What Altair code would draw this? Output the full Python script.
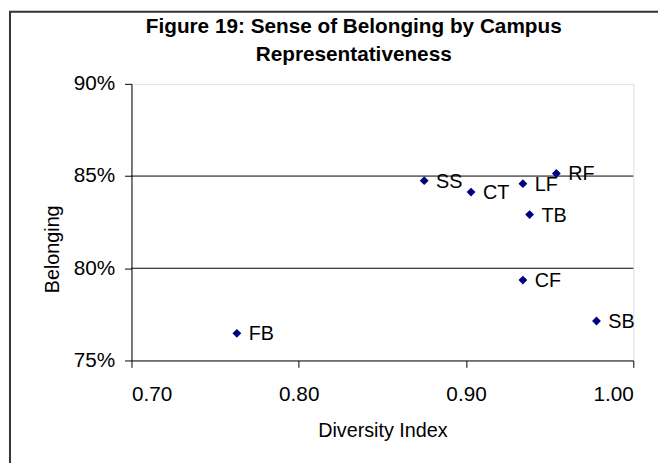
import altair as alt
import pandas as pd

# Data
campus = ["SS", "CT", "LF", "RF", "TB", "CF", "SB", "FB"]
diversity = [0.875, 0.903, 0.934, 0.954, 0.938, 0.934, 0.978, 0.763]
belonging = [0.8475, 0.8413, 0.8459, 0.8514, 0.8291, 0.7936, 0.7714, 0.7647]

x_ticks = [0.70, 0.80, 0.90, 1.00]
y_ticks = [0.75, 0.80, 0.85, 0.90]
grid_vals = [0.80, 0.85]

FONT = "Liberation Sans"

df = pd.DataFrame({"campus": campus, "diversity": diversity, "belonging": belonging})
grid_df = pd.DataFrame({"belonging": grid_vals})

xscale = alt.Scale(domain=[0.70, 1.00], nice=False, zero=False)
yscale = alt.Scale(domain=[0.75, 0.90], nice=False, zero=False)

x_axis = alt.Axis(
    title="Diversity Index", values=x_ticks, format=".2f", grid=False,
    domainColor="black", tickColor="black", tickSize=7, labelPadding=17,
    labelFont=FONT, labelFontSize=21, labelColor="black",
    titleFont=FONT, titleFontSize=20, titleFontWeight="normal", titleColor="black",
    titlePadding=16,
)
y_axis = alt.Axis(
    title="Belonging", values=y_ticks, format=".0%", grid=False,
    domainColor="black", tickColor="black", tickSize=7, labelPadding=10,
    labelFont=FONT, labelFontSize=21, labelColor="black",
    titleFont=FONT, titleFontSize=20, titleFontWeight="normal", titleColor="black",
    titleX=-70, titleY=167,
)

frame = alt.Chart(pd.DataFrame({"f": [0]})).mark_rect(
    fill=None, stroke="#333333", strokeWidth=2
).encode(
    x=alt.value(-123), x2=alt.value(600), y=alt.value(-73), y2=alt.value(500)
)

grid = alt.Chart(grid_df).mark_rule(color="black", strokeWidth=1).encode(
    y=alt.Y("belonging:Q", scale=yscale, axis=y_axis)
)

points = alt.Chart(df).mark_point(
    shape="diamond", filled=True, color="#000080", size=80, opacity=1
).encode(
    x=alt.X("diversity:Q", scale=xscale, axis=x_axis),
    y=alt.Y("belonging:Q", scale=yscale, axis=y_axis),
)

labels = alt.Chart(df).mark_text(
    align="left", baseline="middle", dx=12, dy=1, font=FONT, fontSize=20, color="black"
).encode(
    x=alt.X("diversity:Q", scale=xscale, axis=x_axis),
    y=alt.Y("belonging:Q", scale=yscale, axis=y_axis),
    text="campus:N",
)

chart = alt.layer(frame, grid, points, labels).properties(
    width=508,
    height=280,
    autosize=alt.AutoSizeParams(type="none"),
    padding={"left": 125, "top": 74, "right": 25, "bottom": 101},
    title=alt.TitleParams(
        text=["Figure 19: Sense of Belonging by Campus", "Representativeness"],
        font=FONT, fontSize=21, fontWeight="bold", color="black",
        anchor="middle", frame="group", dx=-29, dy=74, offset=19, lineHeight=28,
    ),
).configure_view(stroke="#999999", strokeWidth=1).configure(background="white")

chart.save("out.html", embed_options={"renderer": "svg", "actions": False})
